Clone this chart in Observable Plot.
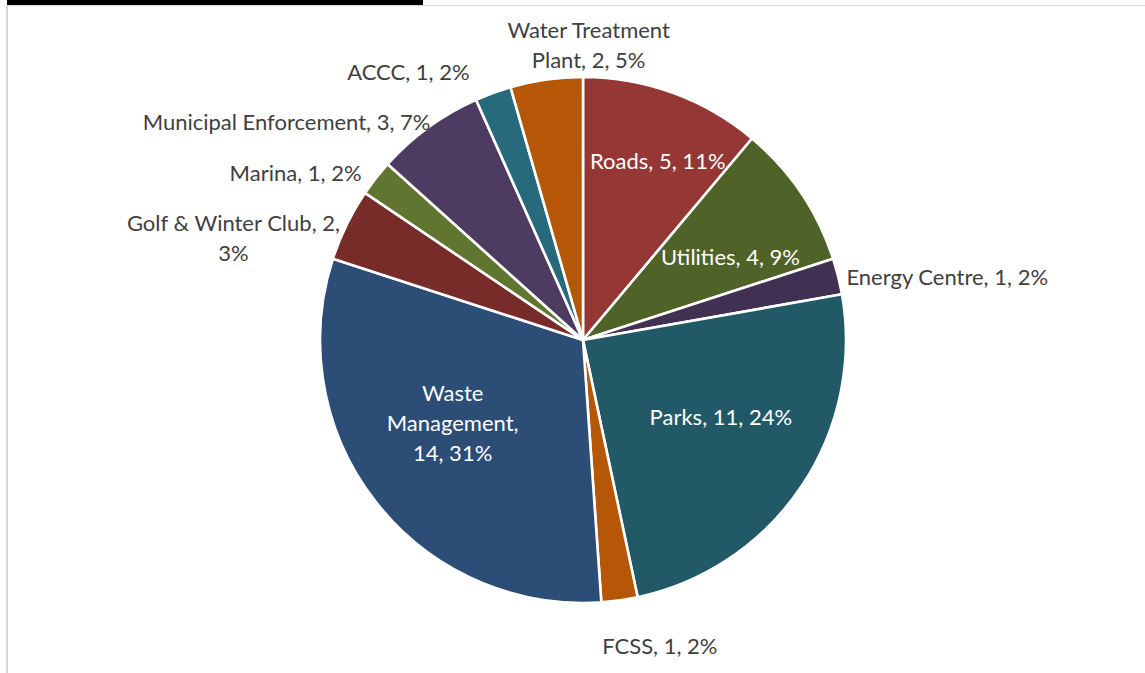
<!DOCTYPE html>
<html><head><meta charset="utf-8">
<script src="https://cdn.jsdelivr.net/npm/d3@7"></script>
<script src="https://cdn.jsdelivr.net/npm/@observablehq/plot@0.6"></script>
<style>
html,body{margin:0;padding:0;background:#fff;}
#wrap{position:relative;width:1145px;height:673px;overflow:hidden;}
#frame{position:absolute;left:6px;top:5px;width:1160px;height:700px;border-left:2px solid #d9d9d9;border-top:1px solid #d9d9d9;}
#bar{position:absolute;left:7px;top:0;width:416px;height:5px;background:#000;}
#chart{position:absolute;left:0;top:0;}
</style></head><body>
<div id="wrap"><div id="frame"></div><div id="chart"></div><div id="bar"></div></div>
<script>
// ---- data ----
const categories = ["Roads","Utilities","Energy Centre","Parks","FCSS","Waste Management","Golf & Winter Club","Marina","Municipal Enforcement","ACCC","Water Treatment Plant"];
const values = [5,4,1,11,1,14,2,1,3,1,2];
const pctLabels = ["11%","9%","2%","24%","2%","31%","3%","2%","7%","2%","5%"];
const colors = ["#953735","#4F6228","#403152","#215967","#B65708","#2C4D75","#772C2A","#5F7530","#4D3B62","#276A7C","#B65708"];

// ---- layout (not data) ----
const W = 1145, H = 673;
const cx = 583, cy = 340, R = 263;
const FONT = "Lato, sans-serif", FS = 22;
const labelLayout = {
  "Roads":                 {k:0.735, da:2.6,  anchor:"middle", inside:true},
  "Utilities":             {k:0.64,  da:4.8,  anchor:"middle", inside:true},
  "Energy Centre":         {k:1.028, da:0.53, anchor:"start"},
  "Parks":                 {k:0.60,  da:-4.5, anchor:"middle", inside:true},
  "FCSS":                  {k:1.2,   da:-6,   anchor:"middle"},
  "Waste Management":      {k:0.59,  da:5.5,  anchor:"middle", inside:true, br:["Waste","Management,"]},
  "Golf & Winter Club":    {k:1.386, da:-9.8, anchor:"middle", br:["2,"]},
  "Marina":                {k:1.056, da:-1.05,anchor:"end"},
  "Municipal Enforcement": {k:1.0126,da:0.94, anchor:"end"},
  "ACCC":                  {k:1.107, da:-3.04,anchor:"end"},
  "Water Treatment Plant": {k:1.12,  da:9,    anchor:"middle", br:["Treatment"]}
};

const rows = categories.map((c,i)=>({category:c, value:values[i], pct:pctLabels[i], color:colors[i]}));
const arcs = d3.pie().sort(null).value(d=>d.value).startAngle(0).endAngle(2*Math.PI)(rows);

const labels = arcs.map(a=>{
  const L = labelLayout[a.data.category];
  const ang = (a.startAngle + a.endAngle)/2 + L.da*Math.PI/180;
  let text = `${a.data.category}, ${a.data.value}, ${a.data.pct}`;
  (L.br||[]).forEach(b=>{ text = text.replace(b+" ", b+"\n"); });
  return {x: cx + L.k*R*Math.sin(ang), y: cy - L.k*R*Math.cos(ang), text, anchor:L.anchor, fill: L.inside ? "#ffffff" : "#404040"};
});

function wedges(index, scales) {
  const g = d3.create("svg:g")
    .attr("transform", `translate(${scales.x(cx)},${scales.y(cy)})`);
  const rr = scales.x(cx+R) - scales.x(cx);
  const arc = d3.arc().innerRadius(0).outerRadius(rr);
  g.selectAll("path").data(arcs).join("path")
    .attr("d", arc)
    .attr("fill", d=>d.data.color)
    .attr("stroke", "#fff")
    .attr("stroke-width", 2.6)
    .attr("stroke-linejoin", "round");
  return g.node();
}

const textMarks = [];
for (const anchor of ["start","middle","end"]) {
  for (const fill of ["#ffffff","#404040"]) {
    const d = labels.filter(l=>l.anchor===anchor && l.fill===fill);
    if (d.length) textMarks.push(Plot.text(d, {x:"x", y:"y", text:"text", textAnchor:anchor, fill, fontSize:FS, lineHeight:1.36, lineAnchor:"middle", dy:-2.5}));
  }
}

const chart = Plot.plot({
  width: W, height: H,
  margin: 0,
  style: {fontFamily: FONT, background: "transparent", overflow: "visible"},
  x: {domain:[0,W], range:[0,W], axis:null},
  y: {domain:[0,H], range:[0,H], axis:null},
  marks: [wedges, ...textMarks]
});
document.getElementById("chart").appendChild(chart);
</script>
</body></html>
